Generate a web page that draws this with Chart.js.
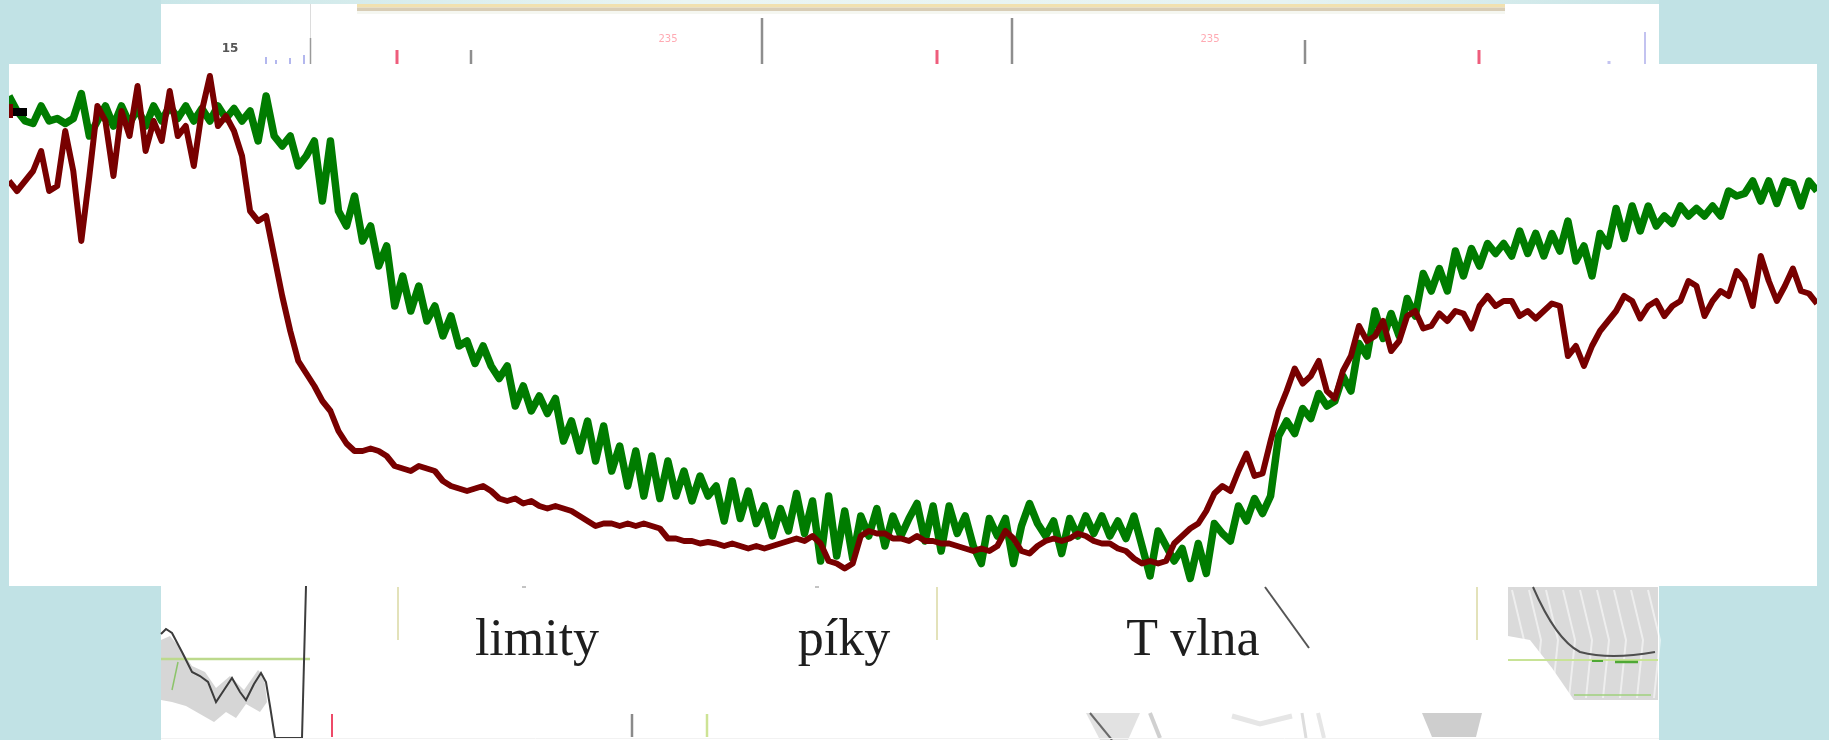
<!DOCTYPE html>
<html>
<head>
<meta charset="utf-8">
<script src="https://cdn.jsdelivr.net/npm/chart.js@4.4.1/dist/chart.umd.min.js"></script>
<style>
  html, body { margin: 0; padding: 0; width: 1829px; height: 740px; overflow: hidden; background: #c1e2e5; }
  #wrap { position: relative; width: 1829px; height: 740px; }
  #c { position: absolute; left: 0; top: 0; }
  .section { position: absolute; font-family: "Liberation Serif", "Times New Roman", serif; font-size: 52px; line-height: 52px; color: #1e1e1e; transform: translateX(-50%); white-space: nowrap; }
  .tiny { position: absolute; transform: translateX(-50%); white-space: nowrap; font-family: "DejaVu Sans", sans-serif; }
</style>
</head>
<body>
<div id="wrap">
  <canvas id="c" width="1829" height="740"></canvas>
</div>
<script>
// Section names printed under the trace
const sectionNames = ['limity', 'píky', 'T vlna'];

// Green trace (one value per sample, 226 samples)
const greenTrace = [
  98, 95, 93, 92.5, 96, 93, 93.5, 92.5, 93.5, 98.5,
  90, 93, 96, 92, 96, 92.5, 95.5, 92, 96, 93,
  96, 93.5, 96, 93, 95.5, 93, 96, 93.5, 95.5, 93,
  95, 89, 98, 90, 88, 90, 84, 86, 89, 77,
  89, 75, 72, 78, 69, 72, 64, 68, 56, 62,
  55, 60, 53, 56, 50, 54, 48, 49, 44.5, 48,
  44, 41.5, 44, 36, 40, 35, 38, 34.5, 37.5, 29,
  33, 27, 33, 25, 32, 23, 28, 20, 27, 18,
  26, 17.5, 25, 18, 23, 17, 22, 18, 20, 13,
  21, 13.5, 19, 12.5, 16, 10, 15.5, 11, 18.5, 10.5,
  17, 5, 18, 6, 15, 5.5, 14, 10, 15.5, 8,
  14, 10, 13.5, 16.5, 9, 16, 7, 16, 10.5, 14,
  8, 4.5, 13.5, 10, 13.5, 4.5, 12, 16.5, 12.5, 10,
  13, 6.5, 13.5, 10, 14, 10.5, 14, 10, 13, 9.5,
  14, 8, 2, 11, 8, 5, 7.5, 1.5, 8.5, 2.5,
  12.5, 10.5, 9, 16, 13, 17.5, 14.5, 18, 30, 33,
  30.5, 35.5, 33.5, 38.5, 36, 37, 42, 39, 48.5, 46,
  55, 49.5, 54.5, 50, 57.5, 54, 62.5, 59, 63.5, 59,
  67, 62, 67.5, 64, 68.5, 66.5, 68.5, 66, 71, 66.5,
  70.5, 66, 70.5, 67, 73, 65, 68, 62, 70.5, 68,
  75.5, 69.5, 76, 71, 76, 72, 74, 72.5, 76, 74,
  75.5, 74, 76, 74, 79, 78, 78.5, 81, 77, 81,
  76.5, 81, 80.5, 76, 81, 79
];

// Dark red trace (same sampling)
const redTrace = [
  81, 79, 81, 83, 87, 79, 80, 91, 83, 69,
  82, 96, 93, 82, 95, 90, 100, 87, 93, 89,
  99, 90, 92, 84, 95, 102, 92, 94, 91, 86,
  75, 73, 74, 66, 58, 51, 45, 42.5, 40, 37,
  35, 31, 28.5, 27, 27, 27.5, 27, 26, 24, 23.5,
  23, 24, 23.5, 23, 21, 20, 19.5, 19, 19.5, 20,
  19, 17.5, 17, 17.5, 16.5, 17, 16, 15.5, 16, 15.5,
  15, 14, 13, 12, 12.5, 12.5, 12, 12.5, 12, 12.5,
  12, 11.5, 9.5, 9.5, 9, 9, 8.5, 8.8, 8.5, 8,
  8.5, 8, 7.5, 8, 7.5, 8, 8.5, 9, 9.5, 9,
  10, 8.5, 5, 4.5, 3.5, 4.5, 10, 11, 10.5, 10.5,
  9.5, 9.5, 9, 10, 9, 9, 8.5, 8.5, 8, 7.5,
  7, 7.5, 7, 8, 11, 9.5, 7, 6.5, 8, 9,
  9.5, 9, 9.5, 10.5, 10, 9, 8.5, 8.5, 7.5, 7,
  5.5, 4.5, 5, 4.5, 5, 8.5, 10, 11.5, 12.5, 15,
  18.5, 20, 19, 23, 26.5, 22, 22.5, 29, 35, 39,
  43.5, 40.5, 42, 45, 39, 37.5, 43, 46, 52, 49,
  50, 53, 47, 49, 54, 55, 51.5, 52, 54.5, 53,
  55, 54.5, 51.5, 56, 58, 56, 57, 57, 54, 55,
  53.5, 55, 56.5, 56, 46, 48, 44, 48, 51, 53,
  55, 58, 57, 53.5, 56, 57, 54, 56, 57, 61,
  60, 54, 57, 59, 58, 63, 61, 56, 66, 61,
  57, 60, 63.5, 59, 58.5, 56.5
];

// ---------- page furniture drawn around the plot ----------
function line(ctx, pts, color, w) {
  ctx.beginPath();
  ctx.moveTo(pts[0][0], pts[0][1]);
  for (let k = 1; k < pts.length; k++) ctx.lineTo(pts[k][0], pts[k][1]);
  ctx.strokeStyle = color;
  ctx.lineWidth = w;
  ctx.stroke();
}
function poly(ctx, pts, color) {
  ctx.beginPath();
  ctx.moveTo(pts[0][0], pts[0][1]);
  for (let k = 1; k < pts.length; k++) ctx.lineTo(pts[k][0], pts[k][1]);
  ctx.closePath();
  ctx.fillStyle = color;
  ctx.fill();
}

function drawBackdrop(ctx, W, H) {
  ctx.fillStyle = '#c1e2e5';
  ctx.fillRect(0, 0, W, H);

  // pale band above the header strip
  const g = ctx.createLinearGradient(161, 0, 1659, 0);
  g.addColorStop(0, '#c9e6e8');
  g.addColorStop(0.35, '#eaf5f3');
  g.addColorStop(0.75, '#e6f3f2');
  g.addColorStop(1, '#c8e5e7');
  ctx.fillStyle = g;
  ctx.fillRect(161, 0, 1498, 4);

  // slide panel behind the plot
  ctx.fillStyle = '#ffffff';
  ctx.fillRect(161, 4, 1498, H - 4);

  // header strip
  ctx.fillStyle = '#f1e1b0'; ctx.fillRect(357, 4, 1148, 3.5);
  ctx.fillStyle = '#d8cdb6'; ctx.fillRect(357, 7.5, 1148, 3.5);
  ctx.fillStyle = '#f5f7f1'; ctx.fillRect(357, 11, 1148, 3);

  // small markers along the top of the panel
  line(ctx, [[310.5, 4], [310.5, 64]], '#dcdcdc', 1);
  line(ctx, [[310.5, 38], [310.5, 64]], '#9a9a9a', 1.5);
  [[266, 57], [276, 60], [290, 58], [304, 55]].forEach(p => line(ctx, [[p[0], p[1]], [p[0], 64]], '#b3b7ee', 2));
  [[397, 50], [937, 50], [1479, 50]].forEach(p => line(ctx, [[p[0], p[1]], [p[0], 64]], '#ee5d7c', 3));
  [[471, 50], [762, 18], [1012, 18], [1305, 40]].forEach(p => line(ctx, [[p[0], p[1]], [p[0], 64]], '#8e8e8e', 2.5));
  line(ctx, [[1645, 32], [1645, 64]], '#c3c3f0', 2);
  line(ctx, [[1609, 61], [1609, 64]], '#c3c3f0', 3);

  // left ECG fragment below the plot
  poly(ctx, [[161, 640], [170, 636], [180, 648], [192, 666], [205, 672], [216, 688], [230, 676], [244, 690],
             [258, 670], [264, 676], [267, 702], [260, 712], [246, 704], [236, 718], [226, 712], [214, 722],
             [200, 714], [186, 706], [172, 702], [161, 700]], '#d6d6d6');
  line(ctx, [[161, 659], [310, 659]], '#bcd98c', 2.5);
  line(ctx, [[178, 662], [172, 690]], '#8cc46a', 1.5);
  line(ctx, [[161, 634], [166, 629], [172, 633], [182, 652], [192, 672], [200, 676], [208, 682], [216, 702],
             [224, 690], [232, 678], [240, 692], [246, 700], [254, 684], [261, 673], [266, 682], [270, 706],
             [275, 738], [302, 738], [306, 586]], '#3c3c3c', 2);

  // pale vertical guides
  [398, 937, 1477].forEach(x => line(ctx, [[x, 587], [x, 640]], '#e3e2ba', 2));
  line(ctx, [[1265, 587], [1309, 648]], '#555555', 2);
  line(ctx, [[522, 587], [526, 587]], '#888888', 1);
  line(ctx, [[815, 587], [819, 587]], '#888888', 1);

  // right ECG fragment
  poly(ctx, [[1508, 587], [1658, 587], [1658, 700], [1574, 700], [1552, 668], [1530, 640], [1508, 636]], '#dadada');
  ctx.save();
  ctx.globalAlpha = 0.55;
  for (let k = 0; k < 9; k++) {
    const x0 = 1512 + k * 17;
    line(ctx, [[x0, 590], [x0 + 12, 640], [x0 + 6, 698]], '#ffffff', 2);
  }
  ctx.restore();
  ctx.beginPath();
  ctx.moveTo(1533, 587);
  ctx.quadraticCurveTo(1556, 640, 1580, 652);
  ctx.quadraticCurveTo(1610, 660, 1655, 652);
  ctx.strokeStyle = '#4e4e4e'; ctx.lineWidth = 2; ctx.stroke();
  line(ctx, [[1508, 660], [1658, 660]], '#c8e396', 2);
  line(ctx, [[1592, 661], [1603, 661]], '#4ea835', 2);
  line(ctx, [[1615, 662], [1638, 662]], '#4ea835', 2.5);
  line(ctx, [[1574, 695], [1651, 695]], '#9fd07c', 1.5);

  // bottom row of clipped thumbnails
  line(ctx, [[332, 714], [332, 737]], '#ee4a68', 2);
  line(ctx, [[632, 714], [632, 737]], '#8a8a8a', 2.5);
  line(ctx, [[707, 714], [707, 737]], '#cde395', 2.5);
  poly(ctx, [[1086, 713], [1140, 713], [1128, 740], [1100, 740]], '#e2e2e2');
  line(ctx, [[1090, 713], [1112, 740]], '#6a6a6a', 2);
  line(ctx, [[1150, 713], [1160, 738]], '#d0d0d0', 4);
  line(ctx, [[1232, 716], [1260, 724], [1292, 716]], '#e6e6e6', 5);
  line(ctx, [[1318, 713], [1324, 738]], '#e6e6e6', 4);
  line(ctx, [[1302, 713], [1306, 738]], '#dddddd', 3);
  poly(ctx, [[1422, 713], [1482, 713], [1476, 737], [1432, 737]], '#cecece');
  line(ctx, [[161, 738.5], [1659, 738.5]], '#f2f2f2', 1);
}

const backdrop = {
  id: 'backdrop',
  beforeDraw(chart) {
    const { ctx, chartArea } = chart;
    ctx.save();
    drawBackdrop(ctx, chart.width, chart.height);
    ctx.fillStyle = '#ffffff';
    ctx.fillRect(chartArea.left, chartArea.top, chartArea.right - chartArea.left, chartArea.bottom - chartArea.top);
    ctx.restore();
  },
  afterDatasetsDraw(chart) {
    // start cursor at the left edge of the trace
    const { ctx, chartArea } = chart;
    ctx.save();
    ctx.fillStyle = '#7a0000';
    ctx.fillRect(chartArea.left, chartArea.top + 40, 4, 14);
    ctx.fillStyle = '#000000';
    ctx.fillRect(chartArea.left + 4, chartArea.top + 44, 14, 8);
    ctx.restore();
  }
};

const toPoints = arr => arr.map((v, i) => ({ x: i, y: v }));

new Chart(document.getElementById('c'), {
  type: 'line',
  data: {
    datasets: [
      {
        label: 'green',
        data: toPoints(greenTrace),
        borderColor: '#007c00',
        borderWidth: 7.5,
        borderJoinStyle: 'round',
        pointRadius: 0,
        fill: false,
        tension: 0,
        order: 2,
        clip: 0
      },
      {
        label: 'red',
        data: toPoints(redTrace),
        borderColor: '#780000',
        borderWidth: 6,
        borderJoinStyle: 'round',
        pointRadius: 0,
        fill: false,
        tension: 0,
        order: 1,
        clip: 0
      }
    ]
  },
  options: {
    responsive: false,
    animation: false,
    events: [],
    layout: { padding: { left: 9, right: 12, top: 64, bottom: 154 } },
    plugins: { legend: { display: false }, tooltip: { enabled: false } },
    scales: {
      x: { type: 'linear', min: 0, max: greenTrace.length - 1, display: false },
      y: { type: 'linear', min: 0, max: 104.4, display: false }
    }
  },
  plugins: [backdrop]
});

// labels: section names and small header numbers
const wrap = document.getElementById('wrap');
const sectionCentres = [537, 844, 1193];
sectionNames.forEach((name, k) => {
  const d = document.createElement('div');
  d.className = 'section';
  d.textContent = name;
  d.style.left = sectionCentres[k] + 'px';
  d.style.top = '612px';
  wrap.appendChild(d);
});
const headerNotes = [
  { text: '15', x: 230, y: 41, size: 12, color: '#555555', weight: 'bold' },
  { text: '235', x: 668, y: 33, size: 10, color: '#ffaab3', weight: 'normal' },
  { text: '235', x: 1210, y: 33, size: 10, color: '#ffaab3', weight: 'normal' }
];
headerNotes.forEach(n => {
  const d = document.createElement('div');
  d.className = 'tiny';
  d.textContent = n.text;
  d.style.left = n.x + 'px';
  d.style.top = n.y + 'px';
  d.style.fontSize = n.size + 'px';
  d.style.color = n.color;
  d.style.fontWeight = n.weight;
  wrap.appendChild(d);
});
</script>
</body>
</html>
